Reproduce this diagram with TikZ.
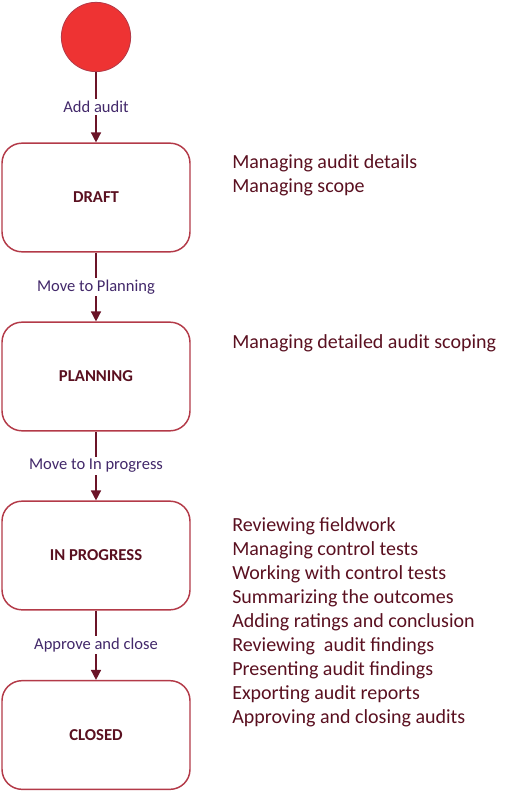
\documentclass[tikz,border=0pt]{standalone}
\usepackage{fontspec}
\setmainfont{Carlito}
\usetikzlibrary{arrows.meta}
\definecolor{edgered}{HTML}{6B1428}
\definecolor{boxred}{HTML}{B33A48}
\definecolor{startred}{HTML}{EE3333}
\definecolor{textred}{HTML}{5A1020}
\definecolor{labelpurple}{HTML}{42286A}
\tikzset{
	state/.style={draw=boxred, line width=1.1pt, rounded corners=15pt, fill=white,
		minimum width=141pt, minimum height=81.5pt, inner sep=0pt,
		font=\fontsize{12.5}{15}\selectfont\bfseries, text=textred},
	trans/.style={draw=edgered, line width=1.1pt, -{Triangle[length=7.5pt,width=7.5pt]}},
	translabel/.style={fill=white, inner sep=1.5pt, font=\fontsize{12.4}{14}\selectfont, text=labelpurple},
	task/.style={anchor=base west, inner sep=0pt, font=\fontsize{15}{18}\selectfont, text=textred}
}
\begin{document}
\begin{tikzpicture}[x=0.75pt,y=-0.75pt]
	\useasboundingbox (0,0) rectangle (506,791);
	\node[circle, draw=boxred, fill=startred, line width=0.6pt, minimum size=52pt, inner sep=0pt] (start) at (96,37) {};

	\node[state] (draft) at (96,197.5) {DRAFT};
	\node[state] (planning) at (96,376.5) {PLANNING};
	\node[state] (inprogress) at (96,555.5) {IN PROGRESS};
	\node[state] (closed) at (96,735) {CLOSED};

	\draw[trans] (start) -- node[translabel]{Add audit} (draft);
	\draw[trans] (draft) -- node[translabel]{Move to Planning} (planning);
	\draw[trans] (planning) -- node[translabel]{Move to In progress} (inprogress);
	\draw[trans] (inprogress) -- node[translabel]{Approve and close} (closed);

	\node[task] (draft1) at (232,169) {Managing audit details};
	\node[task] (draft2) at (232,193) {Managing scope};
	\node[task] (planning1) at (232,348) {Managing detailed audit scoping};
	\foreach \t [count=\i] in {Reviewing fieldwork, Managing control tests, Working with control tests,
		Summarizing the outcomes, Adding ratings and conclusion, Reviewing\ \ audit findings,
		Presenting audit findings, Exporting audit reports, Approving and closing audits}
		\node[task] (inprogress\i) at (232,507+24*\i) {\t};
\end{tikzpicture}
\end{document}
